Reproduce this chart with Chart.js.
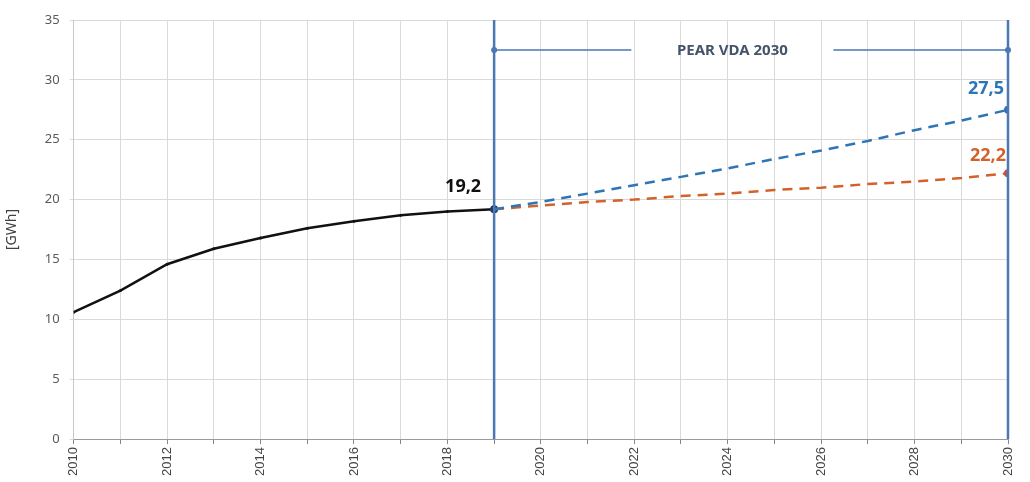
<!DOCTYPE html>
<html>
<head>
<meta charset="utf-8">
<script src="https://cdn.jsdelivr.net/npm/chart.js@4/dist/chart.umd.min.js"></script>
<style>
  body { margin: 0; background: #fff; }
  #wrap { width: 1030px; height: 482px; position: relative; }
</style>
</head>
<body>
<div id="wrap"><canvas id="energy-chart"></canvas></div>
<script>
// historical consumption, 2010-2019
const histYears = [2010, 2011, 2012, 2013, 2014, 2015, 2016, 2017, 2018, 2019];
const histValues = [10.6, 12.4, 14.6, 15.9, 16.8, 17.6, 18.2, 18.7, 19.0, 19.2];
// scenarios to 2030
const scenYears = [2019, 2020, 2021, 2022, 2023, 2024, 2025, 2026, 2027, 2028, 2029, 2030];
const highValues = [19.2, 19.8, 20.5, 21.2, 21.9, 22.6, 23.4, 24.1, 24.9, 25.8, 26.6, 27.5];
const lowValues = [19.2, 19.5, 19.8, 20.0, 20.3, 20.5, 20.8, 21.0, 21.3, 21.5, 21.8, 22.2];
const yTicks = [0, 5, 10, 15, 20, 25, 30, 35];
const baseYear = 2019;
const targetYear = 2030;
const bandLevel = 32.5;
const bandText = 'PEAR VDA 2030';
const bandTextYear = 2024.1;

const toPts = (xs, ys) => xs.map((x, i) => ({ x: x, y: ys[i] }));

const lineBlue = '#4a78b5';
const highColor = '#2e75b6';
const lowColor = '#d2622a';

// vertical markers, PEAR band and value labels
const overlay = {
    id: 'overlay',
    afterDatasetsDraw(chart) {
        const ctx = chart.ctx;
        const xs = chart.scales.x, ys = chart.scales.y;
        const top = ys.getPixelForValue(35), bottom = ys.getPixelForValue(0);
        const x0 = xs.getPixelForValue(baseYear), x1 = xs.getPixelForValue(targetYear);
        ctx.save();
        ctx.strokeStyle = lineBlue;
        ctx.lineWidth = 2.5;
        [x0, x1].forEach(x => {
            ctx.beginPath();
            ctx.moveTo(x, top);
            ctx.lineTo(x, bottom);
            ctx.stroke();
        });
        // band line with gap for the text
        const by = ys.getPixelForValue(bandLevel);
        const tx = xs.getPixelForValue(bandTextYear);
        ctx.lineWidth = 1.5;
        ctx.beginPath();
        ctx.moveTo(x0, by); ctx.lineTo(tx - 101, by);
        ctx.moveTo(tx + 101, by); ctx.lineTo(x1, by);
        ctx.stroke();
        ctx.fillStyle = lineBlue;
        [x0, x1].forEach(x => {
            ctx.beginPath();
            ctx.arc(x, by, 3, 0, Math.PI * 2);
            ctx.fill();
        });
        ctx.font = 'bold 15px "Noto Sans"';
        ctx.fillStyle = '#44546a';
        ctx.textAlign = 'center';
        ctx.textBaseline = 'middle';
        ctx.fillText(bandText, tx, by + 1);

        // value labels
        ctx.font = 'bold 18px "Noto Sans"';
        ctx.textAlign = 'right';
        const lastHist = histValues[histValues.length - 1];
        const lastHigh = highValues[highValues.length - 1];
        const lastLow = lowValues[lowValues.length - 1];
        const fmt = v => v.toFixed(1).replace('.', ',');
        ctx.fillStyle = '#111';
        ctx.fillText(fmt(lastHist), x0 - 13, ys.getPixelForValue(lastHist) - 22);
        ctx.fillStyle = highColor;
        ctx.fillText(fmt(lastHigh), x1 - 4, ys.getPixelForValue(lastHigh) - 21);
        ctx.fillStyle = lowColor;
        ctx.fillText(fmt(lastLow), x1 - 2, ys.getPixelForValue(lastLow) - 17);
        ctx.restore();
    }
};

const chart = new Chart(document.getElementById('energy-chart'), {
    type: 'line',
    data: {
        datasets: [{
            data: toPts(scenYears, highValues),
            borderColor: highColor,
            borderWidth: 2.5,
            borderDash: [10, 7],
            pointRadius: ctx => ctx.dataIndex === scenYears.length - 1 ? 4 : 0,
            pointBackgroundColor: '#3d6eb0',
            pointBorderWidth: 0
        }, {
            data: toPts(scenYears, lowValues),
            borderColor: lowColor,
            borderWidth: 2.5,
            borderDash: [10, 7],
            pointRadius: ctx => ctx.dataIndex === scenYears.length - 1 ? 4 : 0,
            pointBackgroundColor: '#c0504d',
            pointBorderWidth: 0
        }, {
            data: toPts(histYears, histValues),
            borderColor: '#111',
            borderWidth: 2.5,
            pointRadius: ctx => ctx.dataIndex === histYears.length - 1 ? 4 : 1.5,
            pointBackgroundColor: ctx => ctx.dataIndex === histYears.length - 1 ? '#1f3864' : '#111',
            pointBorderWidth: 0
        }]
    },
    options: {
        responsive: true,
        maintainAspectRatio: false,
        animation: false,
        layout: { padding: { top: 20, right: 22, left: 4, bottom: 3 } },
        plugins: { legend: { display: false }, tooltip: { enabled: false } },
        scales: {
            x: {
                type: 'linear',
                min: 2010,
                max: 2030,
                grid: { color: '#d9d9d9', tickLength: 5, tickColor: '#888' },
                border: { color: '#999' },
                ticks: {
                    stepSize: 1,
                    autoSkip: false,
                    minRotation: 90,
                    maxRotation: 90,
                    padding: 3,
                    color: '#444',
                    font: { family: 'Liberation Sans', size: 13 },
                    callback: v => (v % 2 === 0 ? String(v) : '')
                }
            },
            y: {
                min: 0,
                max: 35,
                afterBuildTicks: axis => { axis.ticks = yTicks.map(v => ({ value: v })); },
                grid: { color: '#d9d9d9', tickLength: 4 },
                border: { color: '#c8c8c8' },
                ticks: {
                    color: '#595959',
                    padding: 10,
                    font: { family: 'Noto Sans', size: 13 }
                },
                title: {
                    display: true,
                    text: '[GWh]',
                    color: '#404040',
                    padding: { top: 0, bottom: 14 },
                    font: { family: 'Noto Sans', size: 14 }
                }
            }
        }
    },
    plugins: [overlay]
});
</script>
</body>
</html>
